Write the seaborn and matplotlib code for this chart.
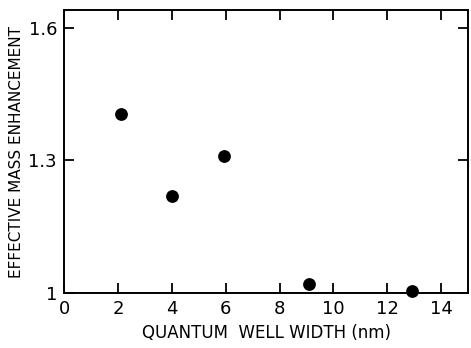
import matplotlib
matplotlib.use("Agg")
import matplotlib.pyplot as plt
import seaborn as sns
import pandas as pd

# values
well_width = [2.1, 4.0, 5.95, 9.1, 12.9]
mass_enh = [1.405, 1.22, 1.31, 1.02, 1.005]

x_ticks = [0, 2, 4, 6, 8, 10, 12, 14]
y_ticks = [1.0, 1.3, 1.6]
y_tick_labels = ["1", "1.3", "1.6"]

sns.set_theme(style="ticks")
plt.rcParams["font.family"] = ["DejaVu Sans"]
plt.rcParams["text.color"] = "black"
plt.rcParams["axes.labelcolor"] = "black"

df = pd.DataFrame({"width": well_width, "enh": mass_enh})

fig = plt.figure(figsize=(4.71, 3.48), dpi=100)
ax = fig.add_axes([0.136, 0.158, 0.858, 0.813])

sns.scatterplot(data=df, x="width", y="enh", ax=ax, color="black",
                s=85, edgecolor="black", linewidth=0, clip_on=False, zorder=3)

ax.set_xlim(0, 15)
ax.set_ylim(1.0, 1.64)
ax.set_xticks(x_ticks)
ax.set_yticks(y_ticks)
ax.set_yticklabels(y_tick_labels)
ax.tick_params(direction="in", length=7, width=1.3, top=True, right=True,
               labelsize=13, colors="black", pad=5)
for sp in ax.spines.values():
    sp.set_linewidth(1.4)
    sp.set_color("black")

ax.set_xlabel("QUANTUM  WELL WIDTH (nm)", fontsize=12, labelpad=4)
ax.set_ylabel("EFFECTIVE MASS ENHANCEMENT", fontsize=11, labelpad=3)

fig.savefig("out.png", dpi=100, facecolor="white")
